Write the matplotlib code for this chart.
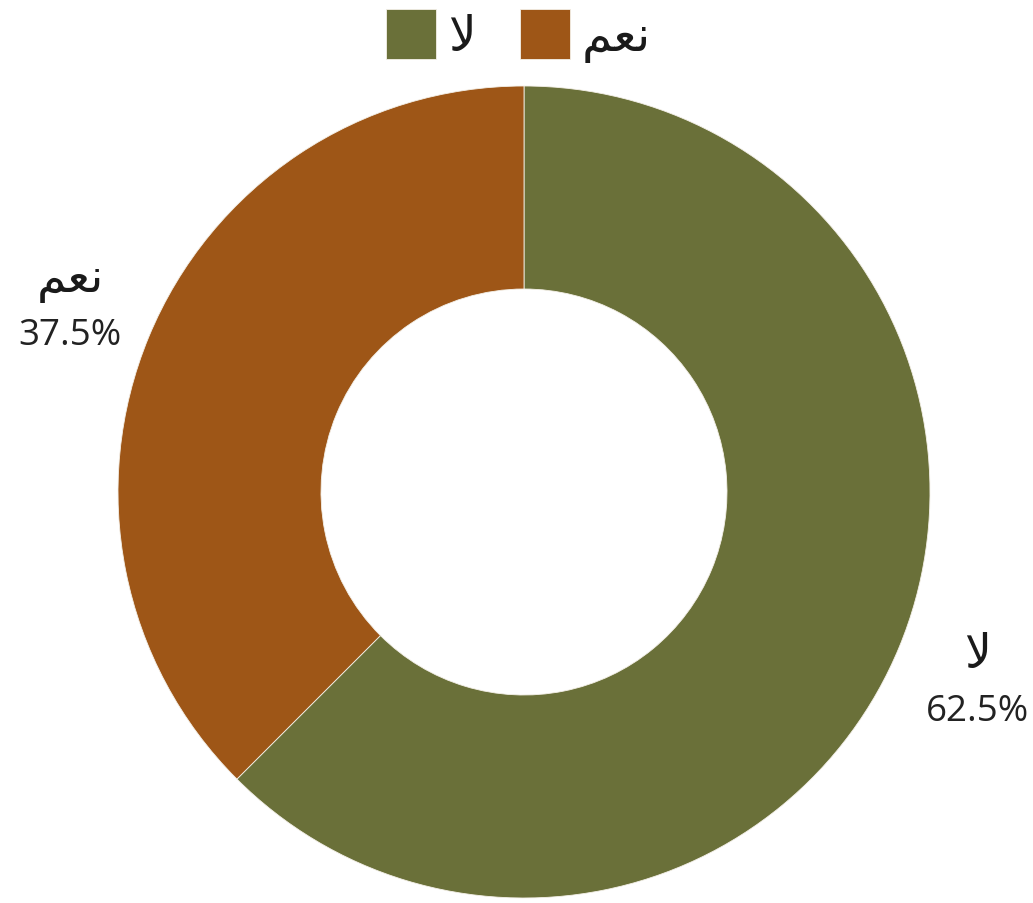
import numpy as np
import matplotlib
matplotlib.use("Agg")
import matplotlib.pyplot as plt

# Data
categories = ["لا", "نعم"]
values = [62.5, 37.5]
colors = ["#6A7039", "#9E5617"]

# Arabic display (shaped presentation forms, visual order) for matplotlib which does no shaping
display_forms = {"لا": "\uFEFB", "نعم": "\uFEE2\uFECC\uFEE7"}

FONT = ["Open Sans", "DejaVu Sans"]
plt.rcParams["font.family"] = FONT

fig = plt.figure(figsize=(10.33, 9.04), dpi=100)
fig.patch.set_facecolor("white")
W, H = 1033, 904
cx, cy, R = 524, 493, 406
ax = fig.add_axes([(cx - R) / W, (H - cy - R) / H, 2 * R / W, 2 * R / H])

wedges, _ = ax.pie(values, colors=colors, startangle=90, counterclock=False,
                   radius=1.0, wedgeprops=dict(width=0.5, edgecolor="#f4f0e8", linewidth=0.6))
ax.set_xlim(-1, 1)
ax.set_ylim(-1, 1)
ax.set_aspect("equal")
ax.axis("off")

for w, cat, v in zip(wedges, categories, values):
    ang = np.deg2rad((w.theta1 + w.theta2) / 2)
    d = 1.21
    x, y = d * np.cos(ang), d * np.sin(ang)
    ax.text(x, y + 26 / R, display_forms[cat], ha="center", va="center",
            fontsize=34, color="#1a1a1a", family=FONT, clip_on=False)
    ax.text(x, y - 31 / R, f"{v:.1f}%", ha="center", va="center",
            fontsize=26.5, color="#222222", family=FONT, clip_on=False)

leg = fig.legend(wedges, [display_forms[c] for c in categories], loc="upper center",
                 bbox_to_anchor=(0.502, 1.0), ncol=2, frameon=False, fontsize=35,
                 handlelength=1.03, handleheight=1.2, handletextpad=0.25,
                 columnspacing=0.9, borderaxespad=0.1, borderpad=0.1)
for t in leg.get_texts():
    t.set_color("#1a1a1a")

fig.savefig("out.png", dpi=100, facecolor="white")
